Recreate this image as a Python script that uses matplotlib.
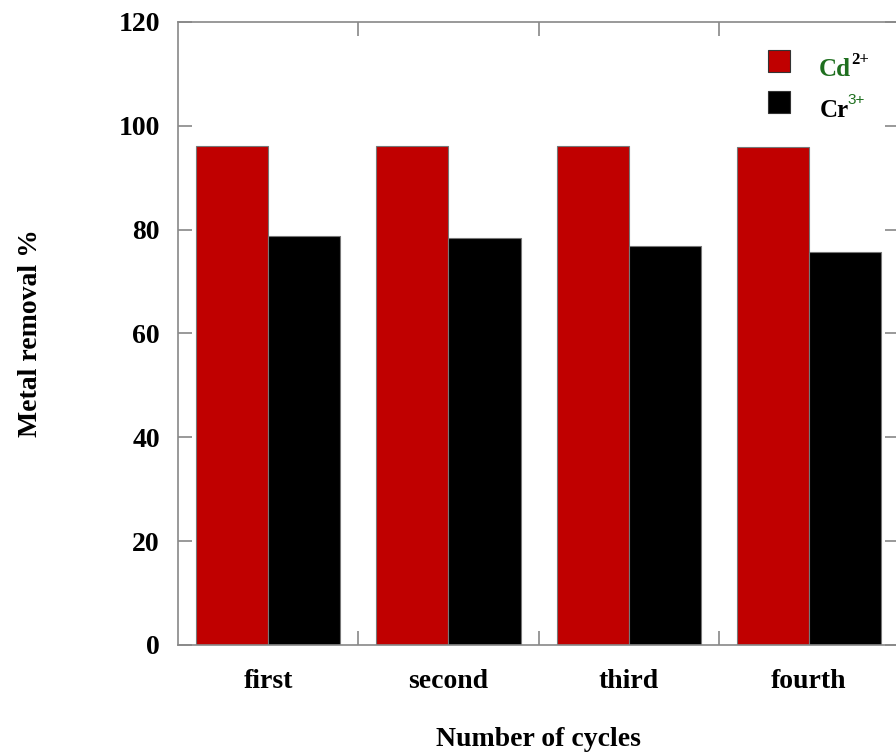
import matplotlib.pyplot as plt
import matplotlib.patches as mpatches
import numpy as np

cycles = ['first', 'second', 'third', 'fourth']
cd_removal = [96.1, 96.1, 96.1, 96.0]
cr_removal = [78.8, 78.3, 76.9, 75.7]

plt.rcParams['font.family'] = 'Liberation Serif'
plt.rcParams['font.weight'] = 'bold'

fig = plt.figure(figsize=(8.96, 7.52), dpi=100)
ax = fig.add_axes([0.1987, 0.1423, 0.8047, 0.8285])

x = np.arange(len(cycles))
w = 0.4
ax.bar(x - w / 2, cd_removal, w, color='#c00000', edgecolor='#777777', linewidth=0.8)
ax.bar(x + w / 2, cr_removal, w, color='black', edgecolor='#777777', linewidth=0.8)

ax.set_xlim(-0.5, 3.5)
ax.set_ylim(0, 120)
ax.set_yticks(range(0, 121, 20))
ax.set_xticks(x)
ax.set_xticklabels(cycles)
ax.set_xticks([0.5, 1.5, 2.5], minor=True)

for s in ax.spines.values():
    s.set_color('#888888')
    s.set_linewidth(1.2)

ax.tick_params(axis='x', which='major', length=0, pad=17, labelsize=20)
ax.tick_params(axis='x', which='minor', direction='in', length=10, width=1.2,
               color='#888888', top=True, bottom=True)
ax.tick_params(axis='y', direction='in', length=10, width=1.2, color='#888888',
               right=True, pad=13, labelsize=20)

ax.set_xlabel('Number of cycles', fontsize=20, fontweight='bold', labelpad=24)
ax.set_ylabel('Metal removal %', fontsize=20, fontweight='bold', labelpad=54)

# legend drawn by hand (mixed-colour labels)
green = '#1f6f1f'
ax.add_patch(mpatches.Rectangle((0.818, 0.920), 0.031, 0.035, transform=ax.transAxes,
                                facecolor='#c00000', edgecolor='#333333', lw=0.8, clip_on=False))
ax.add_patch(mpatches.Rectangle((0.818, 0.854), 0.031, 0.035, transform=ax.transAxes,
                                facecolor='black', edgecolor='#333333', lw=0.8, clip_on=False))
fig.text(819 / 896, 1 - 76 / 752, 'Cd', color=green, fontsize=18, fontweight='bold')
fig.text(851 / 896, 1 - 64 / 752, '2+', color='black', fontsize=12, fontweight='bold')
fig.text(820 / 896, 1 - 117 / 752, 'Cr', color='black', fontsize=18, fontweight='bold')
fig.text(847 / 896, 1 - 104 / 752, '3+', color=green, fontsize=11, fontweight='normal',
         family='Liberation Sans')

fig.savefig('out.png', dpi=100)
